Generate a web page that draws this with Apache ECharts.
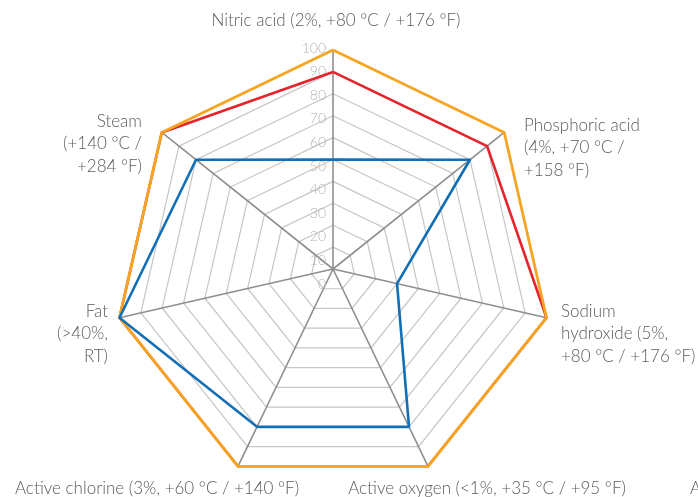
<!DOCTYPE html>
<html>
<head>
<meta charset="utf-8">
<script src="https://cdn.jsdelivr.net/npm/echarts@6/dist/echarts.min.js"></script>
<style>
  html, body { margin: 0; padding: 0; background: #ffffff; }
  #chart { width: 698px; height: 497px; }
</style>
</head>
<body>
<div id="chart"></div>
<script>
// Resistance categories, listed clockwise from the top axis
const categories = [
  'Nitric acid (2%, +80 °C / +176 °F)',
  'Phosphoric acid\n(4%, +70 °C /\n+158 °F)',
  'Sodium\nhydroxide (5%,\n+80 °C / +176 °F)',
  'Active oxygen (<1%, +35 °C / +95 °F)',
  'Active chlorine (3%, +60 °C / +140 °F)',
  'Fat\n(>40%,\nRT)',
  'Steam\n(+140 °C /\n+284 °F)'
];

// Series values (0–100), same clockwise order
const valuesOrange = [100, 100, 100, 100, 100, 100, 100];
const valuesRed    = [90, 90, 100, 100, 100, 100, 100];
const valuesBlue   = [50, 80, 30, 80, 80, 100, 80];

// Scale tick labels
const tickLabels = ['0', '10', '20', '30', '40', '50', '60', '70', '80', '90', '100'];

// Label anchors for the category names (x, y, alignment)
const nameLayout = [
  { x: 336, y: 21,  align: 'center' },
  { x: 524, y: 148, align: 'left' },
  { x: 561, y: 334, align: 'left' },
  { x: 487, y: 489, align: 'center' },
  { x: 157, y: 489, align: 'center' },
  { x: 108, y: 334, align: 'right' },
  { x: 142, y: 144, align: 'right' }
];

// ECharts lays radar indicators out counter-clockwise, so reorder
const drawOrder = [0, 6, 5, 4, 3, 2, 1];
const pick = arr => drawOrder.map(i => arr[i]);

const FONT = 'Lato, "Open Sans", sans-serif';
const NAME_FONT = '300 17px ' + FONT;
const chart = echarts.init(document.getElementById('chart'), null, { renderer: 'canvas' });

const indicators = pick(categories).map(name => ({ name, min: 0, max: 100 }));
const labelIndicators = indicators.map((d, i) => ({
  name: d.name, min: 0, max: 100,
  axisLabel: { show: i === 0 }
}));

const nameGraphics = categories.map((text, i) => ({
  type: 'text',
  x: nameLayout[i].x,
  y: nameLayout[i].y,
  silent: true,
  style: {
    text,
    fill: '#5b5b5b',
    font: NAME_FONT,
    lineHeight: 22.5,
    align: nameLayout[i].align,
    verticalAlign: 'middle'
  }
}));
nameGraphics.push({
  type: 'text', x: 690, y: 489, silent: true,
  style: { text: 'A', fill: '#5b5b5b', font: NAME_FONT, align: 'left', verticalAlign: 'middle' }
});

const lineOf = (color, width) => ({ color, width, type: 'solid' });

chart.setOption({
  animation: false,
  backgroundColor: '#ffffff',
  radar: [
    {
      center: [333, 269],
      radius: 219,
      startAngle: 90,
      shape: 'polygon',
      splitNumber: 10,
      indicator: indicators,
      axisName: { show: false },
      axisLine: { show: true, lineStyle: { color: '#8f8f8f', width: 1.6 } },
      splitLine: { show: true, lineStyle: { color: '#c6c6c6', width: 1.2 } },
      splitArea: { show: false },
      axisTick: { show: false },
      axisLabel: { show: false }
    },
    {
      // scale labels, laid out on the top axis
      center: [333, 284],
      radius: 236,
      startAngle: 90,
      shape: 'polygon',
      splitNumber: 10,
      indicator: labelIndicators,
      axisName: { show: false },
      axisLine: { show: false },
      splitLine: { show: false },
      splitArea: { show: false },
      axisTick: { show: false },
      axisLabel: {
        show: false,
        color: '#b3b3b3',
        fontFamily: FONT,
        fontWeight: 300,
        fontSize: 14,
        margin: 7,
        formatter: v => tickLabels[Math.round(v / 10)]
      }
    }
  ],
  series: [{
    type: 'radar',
    radarIndex: 0,
    symbol: 'none',
    silent: true,
    data: [
      { value: pick(valuesRed),    lineStyle: lineOf('#e4232b', 2.6) },
      { value: pick(valuesOrange), lineStyle: lineOf('#f6a522', 2.8) },
      { value: pick(valuesBlue),   lineStyle: lineOf('#126fb6', 2.6) }
    ]
  }],
  graphic: nameGraphics
});
</script>
</body>
</html>
